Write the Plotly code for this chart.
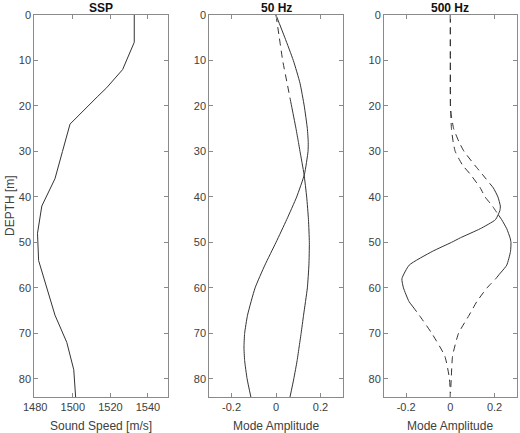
import plotly.graph_objects as go

# ---- data ----
ssp_depth = [0, 6, 12, 16, 18, 21, 24, 30, 36, 42, 48, 54, 60, 66, 72, 78, 84]
ssp_speed = [1532.7, 1532.7, 1526.5, 1518.0, 1513.0, 1505.5, 1498.5, 1494.5, 1490.5,
             1483.5, 1481.2, 1481.8, 1486.0, 1490.5, 1496.8, 1500.5, 1501.5]

depth50 = [0, 5, 10, 15, 20, 25, 28, 30, 35, 40, 45, 50, 55, 60, 66, 70, 73, 76, 80, 84]
mode50_a = [0.0, 0.015, 0.030, 0.050, 0.070, 0.090, 0.101, 0.108, 0.126, 0.138, 0.146,
            0.150, 0.148, 0.141, 0.124, 0.113, 0.104, 0.095, 0.080, 0.063]
mode50_b = [0.0, 0.040, 0.078, 0.108, 0.127, 0.141, 0.145, 0.144, 0.128, 0.093, 0.048,
            0.0, -0.050, -0.094, -0.128, -0.141, -0.144, -0.141, -0.130, -0.113]
mode50_a_solid = (19, 84)
mode50_b_solid = (0, 84)

depth500 = [0, 10, 20, 22, 25, 28, 30, 33, 35, 38, 40, 42, 43, 45, 47, 49, 50, 52, 55,
            58, 60, 63, 66, 70, 75, 80, 84]
mode500_a = [0.0, 0.0, 0.001, 0.004, 0.015, 0.040, 0.062, 0.110, 0.144, 0.194, 0.215,
             0.226, 0.224, 0.204, 0.135, 0.045, 0.005, -0.082, -0.186, -0.219, -0.212,
             -0.187, -0.141, -0.084, -0.025, -0.004, 0.0]
mode500_b = [0.0, 0.0, 0.0, 0.002, 0.005, 0.013, 0.022, 0.055, 0.090, 0.135, 0.157,
             0.190, 0.204, 0.232, 0.255, 0.270, 0.274, 0.272, 0.255, 0.205, 0.166,
             0.120, 0.085, 0.037, 0.010, 0.004, 0.0]
mode500_a_solid = (37, 64)
mode500_b_solid = (44, 57)

ssp_ticks = [1480, 1500, 1520, 1540]
amp_ticks = [-0.2, 0, 0.2]
amp_ticklabels = ["-0.2", "0", "0.2"]
depth_ticks = [0, 10, 20, 30, 40, 50, 60, 70, 80]

panel_titles = ["SSP", "50 Hz", "500 Hz"]
x_titles = ["Sound Speed [m/s]", "Mode Amplitude", "Mode Amplitude"]
y_title = "DEPTH [m]"

# ---- figure ----
W, H = 520, 433
LINE = "#333333"
AX = "#8a8a8a"
TXT = "#404040"
FONT = "Liberation Sans, Arial, sans-serif"

fig = go.Figure()


def interp(d, xs, ys):
    for i in range(len(xs) - 1):
        if xs[i] <= d <= xs[i + 1]:
            t = (d - xs[i]) / (xs[i + 1] - xs[i]) if xs[i + 1] != xs[i] else 0
            return ys[i] + t * (ys[i + 1] - ys[i])
    return ys[-1]


def add_mode(depths, amps, solid, xa, ya):
    lo, hi = solid
    segs = [("dash", depths[0], lo), ("solid", lo, hi), ("dash", hi, depths[-1])]
    for style, a, b in segs:
        if b <= a:
            continue
        ds = [a] + [d for d in depths if a < d < b] + [b]
        vs = [interp(d, depths, amps) for d in ds]
        fig.add_trace(go.Scatter(
            x=vs, y=ds, mode="lines", xaxis=xa, yaxis=ya, showlegend=False,
            line=dict(color=LINE, width=1, shape="spline", smoothing=0.5,
                      dash="solid" if style == "solid" else "7px,5px"),
            hoverinfo="skip"))


fig.add_trace(go.Scatter(x=ssp_speed, y=ssp_depth, mode="lines", xaxis="x", yaxis="y",
                         line=dict(color=LINE, width=1), showlegend=False))
add_mode(depth50, mode50_a, mode50_a_solid, "x2", "y2")
add_mode(depth50, mode50_b, mode50_b_solid, "x2", "y2")
add_mode(depth500, mode500_a, mode500_a_solid, "x3", "y3")
add_mode(depth500, mode500_b, mode500_b_solid, "x3", "y3")

panels = [(34.3, 167.7), (209.3, 342.7), (384.0, 516.7)]
TOP, BOT = 15, 397
y_dom = [1 - BOT / H, 1 - TOP / H]

common = dict(showline=True, linecolor=AX, linewidth=1, mirror="ticks", ticks="inside",
              ticklen=4, tickcolor=AX, showgrid=False, zeroline=False, automargin=False,
              tickfont=dict(family=FONT, size=11, color=TXT))

layout = dict(template="none", width=W, height=H,
              margin=dict(l=0, r=0, t=0, b=0, pad=0, autoexpand=False),
              paper_bgcolor="white", plot_bgcolor="white",
              font=dict(family=FONT, size=11, color=TXT))

for i, (x0, x1) in enumerate(panels):
    sfx = "" if i == 0 else str(i + 1)
    xk, yk = "xaxis" + sfx, "yaxis" + sfx
    if i == 0:
        xr = [1479.5, 1550.5]
        xt = dict(tickvals=ssp_ticks, ticktext=[str(t) for t in ssp_ticks])
    else:
        xr = [-0.3, 0.3]
        xt = dict(tickvals=amp_ticks, ticktext=amp_ticklabels)
    layout[xk] = dict(common, domain=[x0 / W, x1 / W], range=xr, anchor="y" + sfx, **xt)
    layout[yk] = dict(common, domain=y_dom, range=[84, 0], anchor="x" + sfx,
                      tickvals=depth_ticks)

fig.update_layout(**layout)

for (x0, x1), t, xt in zip(panels, panel_titles, x_titles):
    cx = (x0 + x1) / 2 / W
    fig.add_annotation(text="<b>" + t + "</b>", x=cx, y=1 - 7.5 / H,
                       xref="paper", yref="paper", xanchor="center", yanchor="middle",
                       showarrow=False, borderpad=0,
                       font=dict(family=FONT, size=12, color="#111111"))
    fig.add_annotation(text=xt, x=cx, y=1 - 417 / H,
                       xref="paper", yref="paper", xanchor="center", yanchor="top",
                       showarrow=False, font=dict(family=FONT, size=12, color=TXT))

fig.add_annotation(text=y_title, x=1 / W, y=1 - (TOP + BOT) / 2 / H, textangle=-90,
                   xref="paper", yref="paper", xanchor="left", yanchor="middle",
                   showarrow=False, font=dict(family=FONT, size=12, color=TXT))

fig.write_html("out.html", config={"displayModeBar": False},
               post_script="document.body.style.margin='0px';")
